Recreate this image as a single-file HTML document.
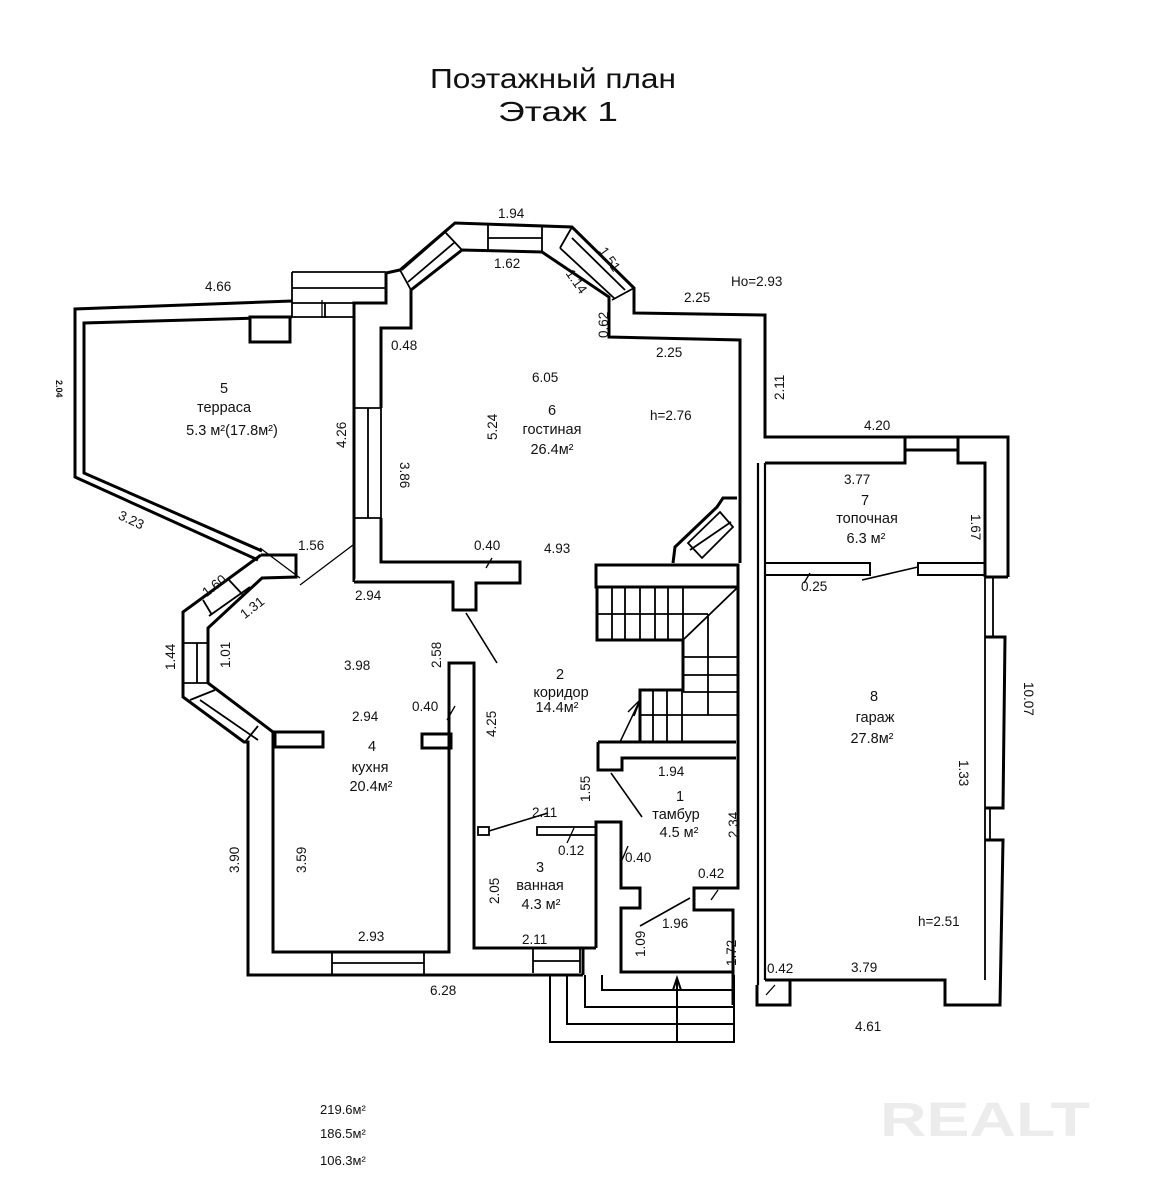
<!DOCTYPE html>
<html><head><meta charset="utf-8"><style>
html,body{margin:0;padding:0;background:#fff;}
svg{display:block;}
text{font-family:"Liberation Sans","DejaVu Sans",sans-serif;fill:#111;}
.d{font-size:13.5px;}
.r{font-size:14.5px;}
</style></head><body>
<svg width="1151" height="1200" viewBox="0 0 1151 1200" xmlns="http://www.w3.org/2000/svg">
<rect width="1151" height="1200" fill="#fff"/>
<text x="553" y="88" font-size="28" text-anchor="middle" textLength="246" lengthAdjust="spacingAndGlyphs">Поэтажный план</text>
<text x="558" y="121" font-size="28" text-anchor="middle" textLength="120" lengthAdjust="spacingAndGlyphs">Этаж  1</text>

<g fill="none" stroke="#000" stroke-width="3" stroke-linejoin="miter">
<!-- terrace -->
<path d="M292,301 L75,309 L75,477 L258,560"/>
<path d="M292,317 L84,323 L84,473 L262,551"/>
<rect x="250" y="317" width="40" height="25" fill="#fff"/>
<path d="M292,272 L386,272 M292,272 L292,317 M292,288 L386,288 M292,303 L354,303 M325,303 L325,318 M292,317 L354,317" stroke-width="1.8"/>
<!-- living room -->
<path d="M354,582 L354,303 L386,303 L386,273 L400,270 L455,223 L572,227 L634,288 L634,313 L765,315 L765,437 L1008,437 L1008,577"/>
<path d="M381,408 L381,328 L411,328 L411,290 L462,250 L542,252 L609,297 L609,337 L740,340 L740,563"/>
<path d="M381,518 L381,562 L520,562 L520,583 L476,583 L476,610 L453,610 L453,582 L354,582" fill="#fff"/>
<path d="M354,408 L381,408 M354,518 L381,518 M368,408 L368,518 M381,408 L381,518" stroke-width="1.8"/>
<!-- bay windows top -->
<path d="M488,224 L488,251 M542,226 L542,252 M488,238 L542,238" stroke-width="1.8"/>
<path d="M445,232 L462,250 M400,270 L411,290 M402,270 L450,228 M408,282 L455,242" stroke-width="1.8"/>
<path d="M572,227 L560,248 M634,288 L612,300 M572,238 L625,290 M560,248 L614,298" stroke-width="1.8"/>
<!-- fireplace -->
<path d="M737,498 L723,498 L717,507 L675,547 L673,563"/>
<path d="M720,512 L733,527 L702,558 L688,543 Z M690,550 L731,522" stroke-width="1.8"/>
<!-- kitchen bay -->
<path d="M261,555 L296,555 L296,577 L262,578 L208,628 L208,683 L273,732 L273,952 L449,952 L449,663 L474,663 L474,948 L596,948"/>
<path d="M261,555 L183,612 L183,697 L244,742 L248,742 L248,975 L583,975"/>
<path d="M203,600 L212,615 M229,580 L243,595 M209,616 L250,587 M183,643 L208,643 M183,683 L208,683 M197,643 L197,683 M190,700 L215,690 M245,742 L258,726 M200,700 L258,740" stroke-width="1.8"/>
<rect x="275" y="732" width="48" height="15"/>
<rect x="422" y="734" width="29" height="14"/>
<path d="M332,952 L332,975 M424,952 L424,975 M332,963 L424,963 M533,948 L533,973 M580,948 L580,973 M533,961 L580,961" stroke-width="1.8"/>
<!-- bath -->
<rect x="478" y="827" width="11" height="8" stroke-width="1.8"/>
<rect x="537" y="827" width="59" height="8" stroke-width="1.8"/>
<path d="M596,948 L596,822 L621,822 L621,888 L640,888 L640,908 L621,908 L621,972 L734,972 M583,975 L583,948"/>
<!-- tambur -->
<path d="M598,742 L736,742 M598,742 L598,770 L622,770 L622,758 L736,758"/>
<path d="M738,588 L738,888 L694,888 L694,910 L733,910 L733,1005"/>
<path d="M758,463 L758,985 M765,463 L765,980" stroke-width="2.2"/>
<!-- stairs -->
<rect x="596" y="565" width="142" height="22"/>
<path d="M597,588 L597,640 L683,640 L683,690 L640,690 L640,742" />
<path d="M597,614 L708,614 M612,588 L612,640 M625,588 L625,640 M640,588 L640,640 M655,588 L655,640 M668,588 L668,640 M683,588 L683,640 M683,640 L737,588 M708,614 L708,715 M683,657 L737,657 M683,675 L737,675 M683,692 L737,692 M683,715 L737,715 M653,690 L653,742 M667,690 L667,742 M682,690 L682,742 M640,715 L683,715" stroke-width="1.8"/>
<path d="M640,700 L620,742 M628,712 L640,700 L634,716" stroke-width="1.5"/>
<!-- door swings -->
<path d="M466,613 L497,663 M611,773 L642,817 M489,831 L548,813 M640,926 L690,898 M862,580 L918,567" stroke-width="1.6"/>
<!-- garage -->
<path d="M765,463 L905,463 L905,437 M958,437 L958,463 L985,463 L985,577 M905,450 L958,450"/>
<path d="M1008,577 L985,577 M985,637 L1005,637 L1003,808 L985,808 M985,840 L1003,840 L1000,1005 L945,1005 L945,980 L765,980 M757,985 L757,1005 L790,1005 L790,980"/>
<path d="M985,577 L985,980 M993,577 L993,637 M990,808 L990,840 M985,637 L1005,637 M985,808 L1003,808" stroke-width="1.8"/>
<path d="M765,563 L870,563 L870,575 L765,575 M918,563 L985,563 L985,575 L918,575 Z" stroke-width="2"/>
<!-- entry steps -->
<path d="M550,975 L550,1042 L734,1042 L734,975 M567,975 L567,1024 L734,1024 M585,975 L585,1007 L734,1007 M602,975 L602,990 L734,990 M677,1042 L677,980 M673,990 L677,978 L681,990" stroke-width="2"/>
<!-- dimension ticks -->
<path d="M300,585 L353,545 M260,548 L300,578 M486,568 L492,558 M447,720 L455,706 M567,843 L574,828 M622,860 L628,846 M711,900 L718,890 M766,995 L775,985 M804,583 L810,573 M322,300 L322,318" stroke-width="1.3"/>
</g>
<text transform="translate(56,380) rotate(90)" font-size="9" font-weight="bold">2.04</text>

<!-- dimension labels -->
<g class="d">
<text x="205" y="291">4.66</text>
<text x="498" y="218">1.94</text>
<text x="494" y="268">1.62</text>
<text x="598" y="258" transform="rotate(55 605 255)">1.51</text>
<text x="566" y="280" transform="rotate(55 572 276)">1.14</text>
<text x="731" y="286">Ho=2.93</text>
<text x="684" y="302">2.25</text>
<text x="656" y="357">2.25</text>
<text x="391" y="350">0.48</text>
<text x="532" y="382">6.05</text>
<text x="650" y="420">h=2.76</text>
<text x="864" y="430">4.20</text>
<text x="844" y="484">3.77</text>
<text x="474" y="550">0.40</text>
<text x="544" y="553">4.93</text>
<text x="298" y="550">1.56</text>
<text x="355" y="600">2.94</text>
<text x="344" y="670">3.98</text>
<text x="352" y="721">2.94</text>
<text x="412" y="711">0.40</text>
<text x="358" y="941">2.93</text>
<text x="430" y="995">6.28</text>
<text x="532" y="817">2.11</text>
<text x="558" y="855">0.12</text>
<text x="625" y="862">0.40</text>
<text x="698" y="878">0.42</text>
<text x="658" y="776">1.94</text>
<text x="662" y="928">1.96</text>
<text x="522" y="944">2.11</text>
<text x="801" y="591">0.25</text>
<text x="767" y="973">0.42</text>
<text x="851" y="972">3.79</text>
<text x="918" y="926">h=2.51</text>
<text x="855" y="1031">4.61</text>
<text x="118" y="524" transform="rotate(25 130 520)">3.23</text>
<text x="200" y="590" transform="rotate(-38 214 584)">1.60</text>
<text x="238" y="612" transform="rotate(-38 252 606)">1.31</text>
<text transform="translate(175,670) rotate(-90)">1.44</text>
<text transform="translate(230,668) rotate(-90)">1.01</text>
<text transform="translate(346,448) rotate(-90)">4.26</text>
<text transform="translate(400,462) rotate(90)">3.86</text>
<text transform="translate(497,440) rotate(-90)">5.24</text>
<text transform="translate(608,338) rotate(-90)">0.62</text>
<text transform="translate(784,400) rotate(-90)">2.11</text>
<text transform="translate(441,668) rotate(-90)">2.58</text>
<text transform="translate(496,737) rotate(-90)">4.25</text>
<text transform="translate(590,802) rotate(-90)">1.55</text>
<text transform="translate(738,838) rotate(-90)">2.34</text>
<text transform="translate(736,966) rotate(-90)">1.72</text>
<text transform="translate(645,957) rotate(-90)">1.09</text>
<text transform="translate(499,904) rotate(-90)">2.05</text>
<text transform="translate(306,873) rotate(-90)">3.59</text>
<text transform="translate(239,873) rotate(-90)">3.90</text>
<text transform="translate(971,514) rotate(90)">1.67</text>
<text transform="translate(959,760) rotate(90)">1.33</text>
<text transform="translate(1024,682) rotate(90)">10.07</text>
</g>

<!-- room labels -->
<g class="r" text-anchor="middle">
<text x="224" y="393">5</text>
<text x="224" y="412">терраса</text>
<text x="232" y="435">5.3  м²(17.8м²)</text>
<text x="552" y="415">6</text>
<text x="552" y="434">гостиная</text>
<text x="552" y="454">26.4м²</text>
<text x="865" y="505">7</text>
<text x="867" y="523">топочная</text>
<text x="866" y="543">6.3  м²</text>
<text x="560" y="679">2</text>
<text x="561" y="697">коридор</text>
<text x="557" y="712">14.4м²</text>
<text x="372" y="751">4</text>
<text x="370" y="772">кухня</text>
<text x="371" y="791">20.4м²</text>
<text x="680" y="801">1</text>
<text x="676" y="819">тамбур</text>
<text x="679" y="837">4.5  м²</text>
<text x="540" y="872">3</text>
<text x="540" y="890">ванная</text>
<text x="541" y="909">4.3  м²</text>
<text x="874" y="701">8</text>
<text x="875" y="722">гараж</text>
<text x="872" y="743">27.8м²</text>
</g>

<g font-size="13">
<text x="320" y="1114">219.6м²</text>
<text x="320" y="1138">186.5м²</text>
<text x="320" y="1165">106.3м²</text>
</g>
<text x="880" y="1136" font-size="48" font-weight="bold" style="fill:#ececec" textLength="210" lengthAdjust="spacingAndGlyphs">REALT</text>
</svg>
</body></html>
